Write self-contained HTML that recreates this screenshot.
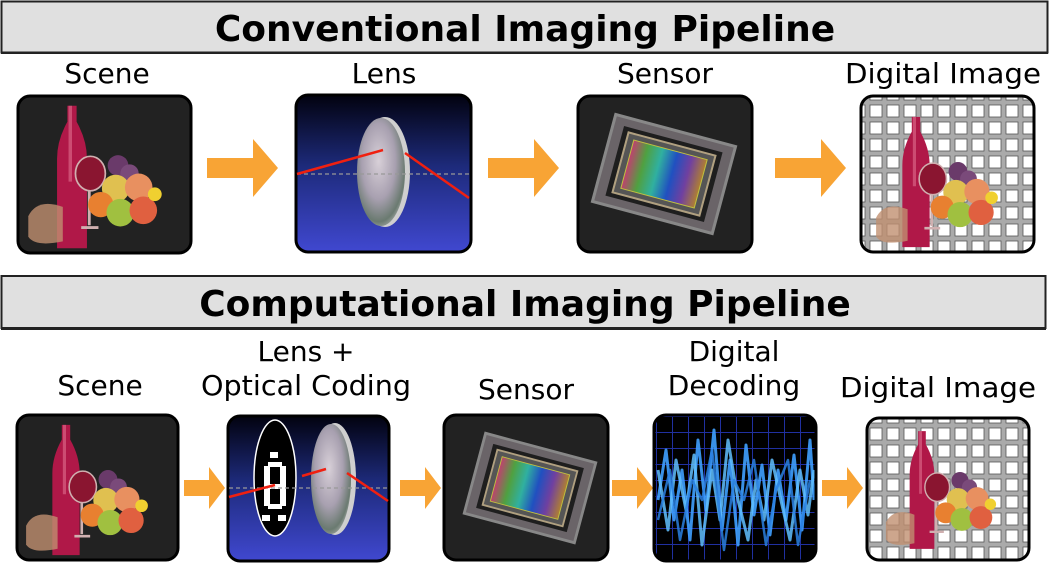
<!DOCTYPE html>
<html><head><meta charset="utf-8"><style>
html,body{margin:0;padding:0;background:#fff;width:1050px;height:580px;overflow:hidden}
svg{display:block}
text{font-family:"DejaVu Sans","Liberation Sans",sans-serif;fill:#000}
</style></head><body>
<svg width="1050" height="580" viewBox="0 0 1050 580" xmlns="http://www.w3.org/2000/svg">
<defs>
<linearGradient id="blue" x1="0" y1="0" x2="0" y2="1">
<stop offset="0" stop-color="#02020f"/><stop offset="0.45" stop-color="#1d2a7a"/><stop offset="1" stop-color="#4048d0"/></linearGradient>
<linearGradient id="rainbow" x1="0" y1="0" x2="1" y2="0">
<stop offset="0" stop-color="#c04070"/><stop offset="0.2" stop-color="#50a040"/><stop offset="0.4" stop-color="#30b0a0"/><stop offset="0.6" stop-color="#2050c0"/><stop offset="0.8" stop-color="#7040a0"/><stop offset="1" stop-color="#b08030"/></linearGradient>
<radialGradient id="lensg" cx="0.45" cy="0.4" r="0.7">
<stop offset="0" stop-color="#d8d0d8"/><stop offset="0.5" stop-color="#a8a0b0"/><stop offset="0.8" stop-color="#6a7a70"/><stop offset="1" stop-color="#c8c8c8"/></radialGradient>
<pattern id="grid" width="17" height="17" patternUnits="userSpaceOnUse">
<rect width="17" height="17" fill="#aaa"/><rect x="3" y="3" width="12" height="12" fill="#fff" stroke="#555" stroke-width="0.8"/></pattern>
<pattern id="wave" width="16" height="16" patternUnits="userSpaceOnUse">
<rect width="16" height="16" fill="#000"/><path d="M0 0.5H16M0.5 0V16" stroke="#2030a0" stroke-width="1"/></pattern>
<clipPath id="cd"><rect x="654" y="415" width="162" height="146" rx="12"/></clipPath>
<g id="scene">
<path d="M-4 -62 h8 v14 q9 16 9 32 v78 h-26 v-78 q0-16 9-32z" fill="#b01848"/>
<path d="M-3 -62 h3 v66 h-3z" fill="#e07090" opacity="0.6"/>
<path d="M-38 34 q8 -16 30 -8 v30 q-24 5 -30 -4z" fill="#c09070" opacity="0.8"/>
<ellipse cx="16" cy="-3" rx="13" ry="15" fill="#8a1530" stroke="#d0b0b0" stroke-width="1.5"/>
<path d="M15 12 v30 M8 44 h15" stroke="#d0b0b0" stroke-width="2.5"/>
<circle cx="40" cy="-10" r="9" fill="#6a3a6a"/><circle cx="50" cy="-3" r="8" fill="#7a4a7a"/>
<circle cx="38" cy="10" r="12" fill="#e0c050"/><circle cx="58" cy="9" r="12" fill="#e89060"/>
<circle cx="25" cy="24" r="11" fill="#e88030"/><circle cx="42" cy="31" r="12" fill="#a0c040"/>
<circle cx="62" cy="29" r="12" fill="#e06040"/><circle cx="72" cy="15" r="6" fill="#f0d030"/>
</g>
<g id="sensor">
<g transform="rotate(15)">
<rect x="-62" y="-45" width="124" height="90" fill="#6a6468" stroke="#888" stroke-width="3"/>
<rect x="-51" y="-36" width="102" height="72" fill="#1e1e1e"/>
<rect x="-45" y="-31" width="90" height="62" fill="#555" stroke="#b0a080" stroke-width="2"/>
<rect x="-38" y="-25" width="76" height="50" fill="url(#rainbow)" stroke="#c0c040" stroke-width="1"/>
</g></g>
<g id="arrowL"><path d="M0 -10 h46 v-19 l25 29 l-25 29 v-19 h-46z" fill="#f8a435"/></g>
<g id="arrowS"><path d="M0 -8 h25 v-13 l16 21 l-16 21 v-13 h-25z" fill="#f8a435"/></g>
</defs>

<rect x="1.5" y="1.5" width="1046" height="51" fill="#e0e0e0" stroke="#222" stroke-width="2"/>
<line x1="1" y1="53" x2="1048" y2="53" stroke="#222" stroke-width="2"/>
<text x="525" y="41" font-size="36" font-weight="bold" text-anchor="middle">Conventional Imaging Pipeline</text>

<g font-size="28" text-anchor="middle">
<text x="107" y="83">Scene</text>
<text x="384" y="83">Lens</text>
<text x="665" y="83">Sensor</text>
<text x="943" y="83" textLength="196" lengthAdjust="spacingAndGlyphs">Digital Image</text>
<text x="100" y="395">Scene</text>
<text x="306" y="361">Lens +</text>
<text x="306" y="395" textLength="210" lengthAdjust="spacingAndGlyphs">Optical Coding</text>
<text x="526" y="399">Sensor</text>
<text x="734" y="361">Digital</text>
<text x="734" y="395">Decoding</text>
<text x="938" y="397" textLength="196" lengthAdjust="spacingAndGlyphs">Digital Image</text>
</g>

<rect x="18" y="96" width="173" height="157" rx="12" fill="#222" stroke="#000" stroke-width="3"/>
<use href="#scene" transform="translate(72,177) scale(1.15)"/>
<use href="#arrowL" transform="translate(207,168)"/>

<rect x="296" y="95" width="175" height="157" rx="12" fill="url(#blue)" stroke="#000" stroke-width="3"/>
<ellipse cx="385" cy="172" rx="25" ry="55" fill="#cfcfcf"/>
<ellipse cx="381" cy="172" rx="24" ry="54" fill="url(#lensg)"/>
<line x1="297" y1="174" x2="470" y2="174" stroke="#999" stroke-width="1.2" stroke-dasharray="4,3"/>
<path d="M297 174 L383 150 M405 153 L469 198" stroke="#f02010" stroke-width="2.5" fill="none"/>
<use href="#arrowL" transform="translate(488,168)"/>

<rect x="578" y="96" width="174" height="156" rx="12" fill="#222" stroke="#000" stroke-width="3"/>
<use href="#sensor" transform="translate(664,174)"/>
<use href="#arrowL" transform="translate(775,168)"/>

<rect x="861" y="96" width="173" height="156" rx="12" fill="url(#grid)" stroke="#000" stroke-width="3"/>
<use href="#scene" transform="translate(916,182) scale(1.05)"/>

<rect x="1.5" y="276" width="1044" height="52" fill="#e0e0e0" stroke="#222" stroke-width="2"/>
<line x1="1" y1="329" x2="1046" y2="329" stroke="#222" stroke-width="2"/>
<text x="525" y="316" font-size="36" font-weight="bold" text-anchor="middle">Computational Imaging Pipeline</text>

<rect x="17" y="415" width="161" height="145" rx="12" fill="#222" stroke="#000" stroke-width="3"/>
<use href="#scene" transform="translate(66,490) scale(1.05)"/>
<use href="#arrowS" transform="translate(184,488)"/>

<rect x="228" y="416" width="161" height="145" rx="12" fill="url(#blue)" stroke="#000" stroke-width="3"/>
<ellipse cx="275" cy="478" rx="21" ry="58" fill="#000" stroke="#fff" stroke-width="1.5"/>
<g fill="#fff">
<rect x="264" y="466" width="6" height="40"/><rect x="280" y="466" width="6" height="40"/>
<rect x="268" y="462" width="14" height="5"/><rect x="268" y="484" width="14" height="5"/><rect x="268" y="504" width="14" height="5"/>
<rect x="262" y="515" width="8" height="6"/><rect x="278" y="515" width="8" height="6"/><rect x="270" y="452" width="8" height="6"/>
</g>
<ellipse cx="335" cy="479" rx="21" ry="56" fill="#cfcfcf"/>
<ellipse cx="331" cy="479" rx="20" ry="55" fill="url(#lensg)"/>
<line x1="229" y1="488" x2="388" y2="488" stroke="#999" stroke-width="1.2" stroke-dasharray="4,3"/>
<path d="M229 497 L275 485 M302 476 L326 469 M347 473 L388 501" stroke="#f02010" stroke-width="2.5" fill="none"/>
<use href="#arrowS" transform="translate(400,488)"/>

<rect x="444" y="415" width="164" height="145" rx="12" fill="#222" stroke="#000" stroke-width="3"/>
<g transform="translate(530,488) scale(0.92)"><use href="#sensor"/></g>
<use href="#arrowS" transform="translate(612,488)"/>

<rect x="654" y="415" width="162" height="146" rx="12" fill="url(#wave)"/>
<g clip-path="url(#cd)" fill="none" stroke-linejoin="round">
<polyline stroke="#3fa0ff" stroke-width="3" opacity="0.9" points="658,500 666,450 674,520 682,470 690,540 698,440 706,510 714,430 722,530 730,460 738,545 746,445 754,515 762,465 770,535 778,470 786,520 794,455 802,530 810,440 814,500"/>
<polyline stroke="#60c0ff" stroke-width="3" opacity="0.85" points="658,470 668,530 676,460 686,510 694,455 702,545 712,470 720,520 728,440 738,500 748,540 756,480 764,520 772,460 782,505 790,540 800,470 808,515 814,470"/>
<polyline stroke="#2a80e0" stroke-width="2.5" opacity="0.85" points="658,520 670,470 680,540 692,480 702,500 712,450 724,550 734,480 744,500 754,460 766,545 776,490 788,460 798,545 810,480"/>
</g>
<rect x="654" y="415" width="162" height="146" rx="12" fill="none" stroke="#000" stroke-width="3"/>
<use href="#arrowS" transform="translate(822,488)"/>

<rect x="867" y="418" width="162" height="142" rx="12" fill="url(#grid)" stroke="#000" stroke-width="3"/>
<use href="#scene" transform="translate(922,490) scale(0.95)"/>
</svg>
</body></html>
